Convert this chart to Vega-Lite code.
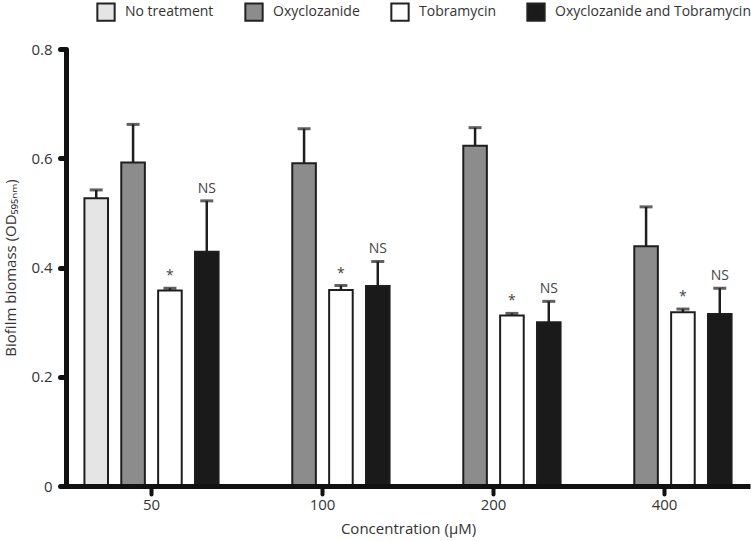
{
  "$schema": "https://vega.github.io/schema/vega-lite/v6.json",
  "width": 684,
  "height": 437,
  "autosize": {"type": "none"},
  "padding": {"left": 66, "top": 49, "right": 1, "bottom": 55},
  "background": "white",
  "config": {
    "font": "Open Sans",
    "view": {"stroke": null},
    "axisY": {
      "domainWidth": 5,
      "domainColor": "#111111",
      "tickColor": "#111111",
      "tickWidth": 5,
      "tickSize": 6,
      "tickCap": "round",
      "labelFontSize": 15,
      "labelColor": "#333333",
      "labelPadding": 8,
      "titleFontSize": 15,
      "titleFontWeight": "normal",
      "titleColor": "#333333",
      "titlePadding": 12,
      "grid": false,
      "zindex": 1
    }
  },
  "data": {
    "values": [
      {"conc": "50", "treatment": "No treatment", "value": 0.527, "err": 0.542, "sig": ""},
      {"conc": "50", "treatment": "Oxyclozanide", "value": 0.592, "err": 0.662, "sig": ""},
      {"conc": "50", "treatment": "Tobramycin", "value": 0.358, "err": 0.362, "sig": "*"},
      {"conc": "50", "treatment": "Oxyclozanide and Tobramycin", "value": 0.429, "err": 0.522, "sig": "NS"},
      {"conc": "100", "treatment": "Oxyclozanide", "value": 0.591, "err": 0.654, "sig": ""},
      {"conc": "100", "treatment": "Tobramycin", "value": 0.359, "err": 0.367, "sig": "*"},
      {"conc": "100", "treatment": "Oxyclozanide and Tobramycin", "value": 0.366, "err": 0.411, "sig": "NS"},
      {"conc": "200", "treatment": "Oxyclozanide", "value": 0.623, "err": 0.656, "sig": ""},
      {"conc": "200", "treatment": "Tobramycin", "value": 0.312, "err": 0.316, "sig": "*"},
      {"conc": "200", "treatment": "Oxyclozanide and Tobramycin", "value": 0.300, "err": 0.338, "sig": "NS"},
      {"conc": "400", "treatment": "Oxyclozanide", "value": 0.439, "err": 0.511, "sig": ""},
      {"conc": "400", "treatment": "Tobramycin", "value": 0.318, "err": 0.324, "sig": "*"},
      {"conc": "400", "treatment": "Oxyclozanide and Tobramycin", "value": 0.315, "err": 0.362, "sig": "NS"}
    ]
  },
  "encoding": {
    "x": {
      "field": "conc",
      "type": "nominal",
      "sort": ["50", "100", "200", "400"],
      "scale": {"paddingInner": 0, "paddingOuter": 0},
      "title": "Concentration (μM)",
      "axis": {
        "labelAngle": 0,
        "domainWidth": 5,
        "domainColor": "#111111",
        "tickColor": "#111111",
        "tickWidth": 4,
        "tickSize": 8,
        "tickCap": "round",
        "labelFontSize": 15,
        "labelColor": "#333333",
        "labelPadding": 3,
        "titleFontSize": 15,
        "titleFontWeight": "normal",
        "titleColor": "#333333",
        "titlePadding": 9,
        "grid": false,
        "zindex": 1
      }
    },
    "xOffset": {
      "field": "treatment",
      "type": "nominal",
      "sort": ["No treatment", "Oxyclozanide", "Tobramycin", "Oxyclozanide and Tobramycin"],
      "scale": {"paddingInner": 0.36, "paddingOuter": 0.5}
    }
  },
  "layer": [
    {
      "mark": {"type": "bar", "stroke": "#1e1e1e", "strokeWidth": 2},
      "encoding": {
        "y": {
          "field": "value",
          "type": "quantitative",
          "scale": {"domain": [0, 0.8], "nice": false},
          "title": "Biofilm biomass (OD₅₉₅ₙₘ)",
          "axis": {
            "values": [0, 0.2, 0.4, 0.6, 0.8],
            "labelExpr": "datum.value == 0 ? '0' : format(datum.value, '.1f')"
          }
        },
        "fill": {
          "field": "treatment",
          "type": "nominal",
          "sort": ["No treatment", "Oxyclozanide", "Tobramycin", "Oxyclozanide and Tobramycin"],
          "scale": {
            "domain": ["No treatment", "Oxyclozanide", "Tobramycin", "Oxyclozanide and Tobramycin"],
            "range": ["#e5e5e5", "#8c8c8c", "#ffffff", "#1a1a1a"]
          },
          "legend": {
            "orient": "none",
            "legendX": 30,
            "legendY": -47,
            "direction": "horizontal",
            "title": null,
            "symbolType": "square",
            "symbolSize": 300,
            "symbolStrokeColor": "#222222",
            "symbolStrokeWidth": 2,
            "symbolOpacity": 1,
            "labelFontSize": 14,
            "labelColor": "#333333",
            "labelOffset": 9,
            "labelLimit": 300,
            "columnPadding": 27
          }
        }
      }
    },
    {
      "mark": {"type": "rule", "strokeWidth": 2.5, "color": "#1e1e1e"},
      "encoding": {
        "y": {"field": "value", "type": "quantitative", "title": "Biofilm biomass (OD₅₉₅ₙₘ)"},
        "y2": {"field": "err"}
      }
    },
    {
      "mark": {"type": "tick", "orient": "horizontal", "size": 13, "thickness": 3, "color": "#1e1e1e"},
      "encoding": {
        "y": {"field": "err", "type": "quantitative", "title": "Biofilm biomass (OD₅₉₅ₙₘ)"}
      }
    },
    {
      "mark": {"type": "text", "baseline": "bottom", "dy": -5, "fontSize": 14, "color": "#444444"},
      "encoding": {
        "y": {"field": "err", "type": "quantitative", "title": "Biofilm biomass (OD₅₉₅ₙₘ)"},
        "text": {"field": "sig"}
      }
    }
  ]
}
